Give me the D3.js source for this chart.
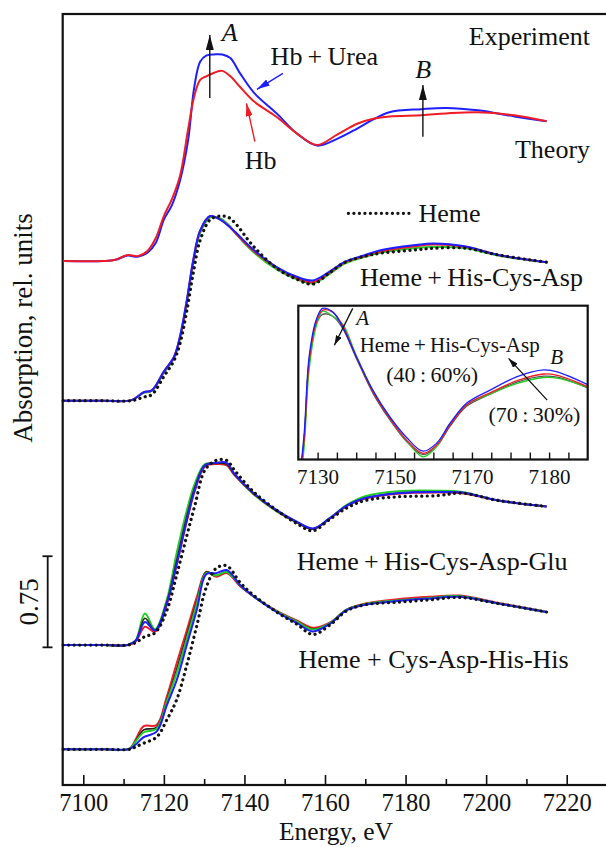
<!DOCTYPE html>
<html>
<head>
<meta charset="utf-8">
<script src="https://cdn.jsdelivr.net/npm/d3@7/dist/d3.min.js"></script>
<style>
  body { margin: 0; background: #fff; }
  text { font-family: "Liberation Serif", "Times New Roman", serif; fill: #111; }
</style>
</head>
<body>
<svg id="chart" width="606" height="847"></svg>
<script>
// ---- data: energy (eV) and absorption (rel. units, pre-edge = 0) ----
// panel 1: Hb / Hb + Urea
const energyHb = [7095, 7105, 7108, 7111, 7113.5, 7116, 7118, 7120, 7122, 7124, 7126, 7127.5, 7129, 7130.5, 7132.5, 7134.5, 7136.5, 7139, 7142.5, 7148, 7153, 7158, 7163, 7168, 7172, 7176, 7184, 7190, 7198, 7207, 7215];
const hbRed      = [0, 0, 0.01, 0.05, 0.04, 0.085, 0.19, 0.37, 0.51, 0.70, 1.08, 1.35, 1.49, 1.52, 1.55, 1.565, 1.52, 1.43, 1.31, 1.185, 1.05, 0.955, 1.04, 1.13, 1.17, 1.19, 1.20, 1.215, 1.225, 1.20, 1.15];
const hbUreaBlue = [0, 0, 0.01, 0.045, 0.035, 0.07, 0.15, 0.34, 0.46, 0.66, 0.99, 1.42, 1.64, 1.69, 1.70, 1.70, 1.67, 1.54, 1.38, 1.215, 1.05, 0.95, 1.005, 1.09, 1.165, 1.225, 1.25, 1.26, 1.24, 1.19, 1.15];

// panel 2: Heme + His-Cys-Asp
const energyP2 = [7095, 7105, 7112, 7115, 7117, 7120, 7122.5, 7124, 7125.7, 7127.3, 7129, 7131.5, 7134, 7136, 7138, 7142, 7148, 7153, 7157, 7161, 7165, 7170, 7174, 7182, 7187, 7195, 7203, 7215];
const p2Green = [0, 0, 0.005, 0.065, 0.08, 0.23, 0.35, 0.51, 0.80, 1.13, 1.38, 1.51, 1.50, 1.45, 1.37, 1.23, 1.08, 1.00, 0.965, 1.04, 1.13, 1.185, 1.22, 1.255, 1.265, 1.255, 1.195, 1.14];
const p2Red   = [0, 0, 0.005, 0.07, 0.085, 0.24, 0.36, 0.52, 0.82, 1.15, 1.40, 1.52, 1.49, 1.44, 1.37, 1.24, 1.095, 1.01, 0.975, 1.05, 1.14, 1.19, 1.23, 1.27, 1.285, 1.265, 1.20, 1.14];
const p2Blue  = [0, 0, 0.005, 0.07, 0.085, 0.24, 0.36, 0.53, 0.83, 1.16, 1.40, 1.52, 1.49, 1.44, 1.38, 1.25, 1.10, 1.02, 0.99, 1.06, 1.145, 1.20, 1.24, 1.28, 1.295, 1.27, 1.20, 1.14];
const p2Heme  = [0, 0, 0, 0.03, 0.05, 0.20, 0.33, 0.47, 0.74, 1.05, 1.32, 1.49, 1.52, 1.51, 1.45, 1.28, 1.09, 1.00, 0.96, 1.05, 1.14, 1.19, 1.215, 1.24, 1.255, 1.255, 1.20, 1.14];

// panel 3: Heme + His-Cys-Asp-Glu
const energyP3 = [7095, 7105, 7111, 7113, 7115.3, 7117.8, 7120.7, 7123.2, 7125.7, 7127.7, 7130.2, 7133, 7135.6, 7137.5, 7142.3, 7148, 7153, 7157, 7161, 7165.5, 7170, 7178, 7188, 7194, 7203, 7215];
const p3Green = [0, 0, 0, 0.04, 0.26, 0.13, 0.37, 0.76, 1.11, 1.33, 1.49, 1.49, 1.48, 1.40, 1.24, 1.10, 1.01, 0.955, 1.04, 1.155, 1.225, 1.265, 1.27, 1.26, 1.19, 1.14];
const p3Red   = [0, 0, 0, 0.03, 0.15, 0.11, 0.33, 0.66, 1.02, 1.27, 1.47, 1.49, 1.48, 1.40, 1.245, 1.105, 1.01, 0.955, 1.035, 1.145, 1.205, 1.245, 1.255, 1.25, 1.19, 1.14];
const p3Black = [0, 0, 0, 0.035, 0.22, 0.12, 0.35, 0.70, 1.06, 1.30, 1.48, 1.495, 1.49, 1.405, 1.245, 1.105, 1.01, 0.955, 1.035, 1.15, 1.21, 1.25, 1.26, 1.255, 1.19, 1.14];
const p3Blue  = [0, 0, 0, 0.035, 0.19, 0.12, 0.34, 0.67, 1.03, 1.28, 1.48, 1.50, 1.50, 1.41, 1.25, 1.11, 1.015, 0.96, 1.04, 1.15, 1.21, 1.25, 1.26, 1.255, 1.19, 1.14];
const p3Heme  = [0, 0, 0, 0.02, 0.07, 0.10, 0.28, 0.58, 0.90, 1.15, 1.44, 1.52, 1.52, 1.44, 1.26, 1.11, 1.00, 0.94, 1.03, 1.13, 1.19, 1.22, 1.23, 1.25, 1.19, 1.14];

// panel 4: Heme + Cys-Asp-His-His
const energyP4 = [7095, 7105, 7111.5, 7113, 7115, 7118.2, 7120.7, 7123.2, 7125.7, 7128.2, 7130.5, 7133, 7135.6, 7139, 7142.2, 7148, 7153, 7157, 7161.3, 7165.4, 7170, 7178, 7186, 7193.5, 7203, 7215];
const p4Red   = [0, 0, 0.005, 0.08, 0.19, 0.20, 0.43, 0.71, 0.98, 1.255, 1.46, 1.42, 1.45, 1.34, 1.26, 1.14, 1.06, 1.00, 1.045, 1.15, 1.20, 1.235, 1.255, 1.265, 1.205, 1.13];
const p4Black = [0, 0, 0.005, 0.07, 0.16, 0.18, 0.40, 0.66, 0.94, 1.22, 1.46, 1.43, 1.46, 1.345, 1.26, 1.135, 1.05, 0.99, 1.04, 1.15, 1.195, 1.225, 1.245, 1.26, 1.20, 1.13];
const p4Green = [0, 0, 0.005, 0.065, 0.14, 0.17, 0.39, 0.63, 0.91, 1.20, 1.45, 1.43, 1.46, 1.35, 1.26, 1.135, 1.05, 0.985, 1.04, 1.15, 1.195, 1.225, 1.245, 1.26, 1.20, 1.13];
const p4Blue  = [0, 0, 0.003, 0.04, 0.10, 0.145, 0.36, 0.57, 0.86, 1.15, 1.44, 1.45, 1.475, 1.35, 1.26, 1.13, 1.04, 0.97, 1.035, 1.145, 1.19, 1.22, 1.24, 1.255, 1.20, 1.13];
const p4Heme  = [0, 0, 0, 0.02, 0.05, 0.10, 0.24, 0.41, 0.695, 1.02, 1.33, 1.49, 1.51, 1.37, 1.27, 1.13, 1.03, 0.945, 1.025, 1.14, 1.19, 1.21, 1.23, 1.25, 1.20, 1.13];

// vertical offsets of the stacked spectra (rel. units)
const offsets = [4.313, 3.163, 1.152, 0.294];

// inset: Heme + His-Cys-Asp, 40:60% ... 70:30%
const energyInset = [7125, 7126.5, 7127.8, 7129.6, 7131.3, 7133.9, 7136.5, 7140, 7144.3, 7148.7, 7153, 7157.3, 7160.8, 7164.3, 7168.6, 7174.7, 7181.7, 7188.6, 7192.1, 7200.2];
const insetGray  = [0.84, 1.03, 1.32, 1.46, 1.497, 1.49, 1.445, 1.335, 1.205, 1.105, 1.025, 0.975, 1.005, 1.08, 1.155, 1.20, 1.245, 1.267, 1.263, 1.222];
const insetGreen = [0.82, 1.00, 1.29, 1.45, 1.508, 1.49, 1.46, 1.345, 1.215, 1.11, 1.028, 0.967, 1.005, 1.09, 1.16, 1.20, 1.24, 1.262, 1.26, 1.225];
const insetRed   = [0.84, 1.03, 1.32, 1.465, 1.512, 1.505, 1.455, 1.34, 1.21, 1.11, 1.03, 0.98, 1.01, 1.085, 1.16, 1.205, 1.25, 1.275, 1.27, 1.227];
const insetBlue  = [0.85, 1.05, 1.339, 1.475, 1.519, 1.506, 1.45, 1.34, 1.215, 1.116, 1.04, 0.988, 1.017, 1.091, 1.166, 1.215, 1.265, 1.29, 1.283, 1.234];

// ticks
const majorTicks = [7100, 7120, 7140, 7160, 7180, 7200, 7220];
const minorTicks = [7110, 7130, 7150, 7170, 7190, 7210];
const insetTicks = [7130, 7135, 7140, 7145, 7150, 7155, 7160, 7165, 7170, 7175, 7180, 7185, 7190, 7195];
const insetLabelTicks = [7130, 7150, 7170, 7190];
const insetLabels = ["7130", "7150", "7170", "7180"];
const scaleBar = [1.133, 0.75];   // start, length (rel. units)

// ---- layout ----
const frame = { left: 62.7, top: 14, right: 612, bottom: 785 };
const inset = { left: 298.3, top: 305.7, right: 587.7, bottom: 459.5 };
const C = { red: "#ee1c24", blue: "#1e1eff", green: "#22cc22", black: "#222", gray: "#555" };
const FS = 26;      // annotation font size
const FSI = 21;     // inset font size

const svg = d3.select("#chart");
const x = d3.scaleLinear().domain([7100, 7220]).range([83.3, 566.7]);
const y = d3.scaleLinear().domain([0, 6.346]).range([frame.bottom, frame.top]);
const ix = d3.scaleLinear().domain([7125, 7200]).range([inset.left, inset.right]);
const iy = d3.scaleLinear().domain([0.957, 1.529]).range([inset.bottom, inset.top]);

const defs = svg.append("defs");
function marker(id, color, len, wid) {
  defs.append("marker").attr("id", id)
    .attr("viewBox", `0 0 ${len} ${wid}`).attr("refX", len).attr("refY", wid / 2)
    .attr("markerWidth", len).attr("markerHeight", wid)
    .attr("markerUnits", "userSpaceOnUse").attr("orient", "auto")
    .append("path").attr("d", `M0,0L${len},${wid / 2}L0,${wid}Z`).attr("fill", color);
}
marker("ar-black", "#111", 15, 8);
marker("ar-blue", C.blue, 13, 7);
marker("ar-red", C.red, 13, 7);
marker("ar-small", "#111", 10, 6);

defs.append("clipPath").attr("id", "inset-clip").append("rect")
  .attr("x", inset.left).attr("y", inset.top)
  .attr("width", inset.right - inset.left).attr("height", inset.bottom - inset.top);

function drawCurve(g, energy, values, off, color, width, dotted, sx, sy) {
  const line = d3.line()
    .x((d, i) => sx(energy[i]))
    .y(d => sy(d + off))
    .curve(d3.curveCatmullRom.alpha(0.5));
  const p = g.append("path").attr("d", line(values))
    .attr("fill", "none").attr("stroke", color).attr("stroke-width", width)
    .attr("stroke-linejoin", "round");
  if (dotted) p.attr("stroke-dasharray", "0.1,5.4").attr("stroke-linecap", "round");
}

// ---- frame and axis ----
svg.append("rect")
  .attr("x", frame.left).attr("y", frame.top)
  .attr("width", frame.right - frame.left).attr("height", frame.bottom - frame.top)
  .attr("fill", "none").attr("stroke", "#111").attr("stroke-width", 2.2);

const gx = svg.append("g").attr("transform", `translate(0,${frame.bottom})`)
  .call(d3.axisBottom(x).tickValues(majorTicks).tickSize(-10).tickPadding(9).tickFormat(d3.format("d")));
gx.append("g").call(d3.axisBottom(x).tickValues(minorTicks).tickSize(-6).tickFormat(""));
gx.attr("font-size", null).attr("font-family", null);
gx.selectAll(".domain").remove();
gx.selectAll("line").attr("stroke", "#111").attr("stroke-width", 1.6);
gx.selectAll("text").attr("font-size", 24.5).attr("fill", "#111");

svg.append("text").attr("x", 336).attr("y", 839.5).attr("text-anchor", "middle")
  .attr("font-size", 25.5).text("Energy, eV");
svg.append("text").attr("transform", "translate(31.5,328) rotate(-90)")
  .attr("text-anchor", "middle").attr("font-size", 27).text("Absorption, rel. units");

// scale bar
const sb = svg.append("g").attr("stroke", "#111").attr("stroke-width", 1.8);
sb.append("line").attr("x1", 47.7).attr("x2", 47.7).attr("y1", y(scaleBar[0])).attr("y2", y(scaleBar[0] + scaleBar[1]));
[scaleBar[0], scaleBar[0] + scaleBar[1]].forEach(v =>
  sb.append("line").attr("x1", 42.5).attr("x2", 52.5).attr("y1", y(v)).attr("y2", y(v)));
svg.append("text")
  .attr("transform", `translate(37.5,${y(scaleBar[0] + scaleBar[1] / 2)}) rotate(-90)`)
  .attr("text-anchor", "middle").attr("font-size", 27).text(scaleBar[1].toFixed(2));

// ---- spectra ----
const plot = svg.append("g");
drawCurve(plot, energyHb, hbUreaBlue, offsets[0], C.blue, 2, false, x, y);
drawCurve(plot, energyHb, hbRed, offsets[0], C.red, 2, false, x, y);

drawCurve(plot, energyP2, p2Green, offsets[1], C.green, 2, false, x, y);
drawCurve(plot, energyP2, p2Red, offsets[1], C.red, 2, false, x, y);
drawCurve(plot, energyP2, p2Blue, offsets[1], C.blue, 2, false, x, y);
drawCurve(plot, energyP2, p2Heme, offsets[1], "#111", 3.2, true, x, y);

drawCurve(plot, energyP3, p3Green, offsets[2], C.green, 2, false, x, y);
drawCurve(plot, energyP3, p3Red, offsets[2], C.red, 2, false, x, y);
drawCurve(plot, energyP3, p3Black, offsets[2], C.black, 1.6, false, x, y);
drawCurve(plot, energyP3, p3Blue, offsets[2], C.blue, 2, false, x, y);
drawCurve(plot, energyP3, p3Heme, offsets[2], "#111", 3.2, true, x, y);

drawCurve(plot, energyP4, p4Red, offsets[3], C.red, 2, false, x, y);
drawCurve(plot, energyP4, p4Black, offsets[3], C.black, 1.6, false, x, y);
drawCurve(plot, energyP4, p4Green, offsets[3], C.green, 2, false, x, y);
drawCurve(plot, energyP4, p4Blue, offsets[3], C.blue, 2, false, x, y);
drawCurve(plot, energyP4, p4Heme, offsets[3], "#111", 3.2, true, x, y);

// ---- annotations (data coordinates) ----
function arrow(g, sx, sy, e1, u1, e2, u2, color, id, w) {
  g.append("line").attr("x1", sx(e1)).attr("y1", sy(u1)).attr("x2", sx(e2)).attr("y2", sy(u2))
    .attr("stroke", color).attr("stroke-width", w).attr("marker-end", `url(#${id})`);
}
function label(g, sx, sy, e, u, txt, size, opts = {}) {
  return g.append("text").attr("x", sx(e)).attr("y", sy(u)).attr("font-size", size)
    .attr("text-anchor", opts.anchor || "start")
    .attr("font-style", opts.italic ? "italic" : null).text(txt);
}
const ann = svg.append("g");
arrow(ann, x, y, 7131.4, 5.654, 7131.4, 6.173, "#111", "ar-black", 1.4);
label(ann, x, y, 7134.4, 6.123, "A", FS, { italic: true });
arrow(ann, x, y, 7184.3, 5.336, 7184.3, 5.761, "#111", "ar-black", 1.4);
label(ann, x, y, 7182.4, 5.819, "B", FS, { italic: true });
label(ann, x, y, 7146.5, 5.926, "Hb\u2009+\u2009Urea", FS);
arrow(ann, x, y, 7149.55, 5.858, 7143.1, 5.726, C.blue, "ar-blue", 1.4);
label(ann, x, y, 7140.1, 5.07, "Hb", FS);
arrow(ann, x, y, 7142.6, 5.295, 7140.5, 5.611, C.red, "ar-red", 1.4);
label(ann, x, y, 7225.8, 6.091, "Experiment", FS, { anchor: "end" });
label(ann, x, y, 7225.8, 5.16, "Theory", FS, { anchor: "end" });

// Heme legend
ann.append("line").attr("x1", x(7165.8)).attr("x2", x(7181.9)).attr("y1", y(4.705)).attr("y2", y(4.705))
  .attr("stroke", "#111").attr("stroke-width", 3.2).attr("stroke-dasharray", "0.1,5.4").attr("stroke-linecap", "round");
label(ann, x, y, 7183.2, 4.636, "Heme", FS);
label(ann, x, y, 7168.7, 4.107, "Heme\u2009+\u2009His-Cys-Asp", FS);
label(ann, x, y, 7153.0, 1.7695, "Heme\u2009+\u2009His-Cys-Asp-Glu", FS);
label(ann, x, y, 7153.4, 0.9605, "Heme + Cys-Asp-His-His", FS);

// ---- inset ----
const gi = svg.append("g");
gi.append("rect").attr("x", inset.left).attr("y", inset.top)
  .attr("width", inset.right - inset.left).attr("height", inset.bottom - inset.top)
  .attr("fill", "#fff");
const gic = gi.append("g").attr("clip-path", "url(#inset-clip)");
drawCurve(gic, energyInset, insetGray, 0, C.gray, 1.3, false, ix, iy);
drawCurve(gic, energyInset, insetGreen, 0, C.green, 1.3, false, ix, iy);
drawCurve(gic, energyInset, insetRed, 0, C.red, 1.3, false, ix, iy);
drawCurve(gic, energyInset, insetBlue, 0, C.blue, 1.3, false, ix, iy);

const gix = gi.append("g").attr("transform", `translate(0,${inset.bottom})`)
  .call(d3.axisBottom(ix).tickValues(insetTicks).tickSize(-7).tickPadding(10)
    .tickFormat(d => { const k = insetLabelTicks.indexOf(d); return k < 0 ? "" : insetLabels[k]; }));
gix.attr("font-size", null).attr("font-family", null);
gix.selectAll(".domain").remove();
gix.selectAll("line").attr("stroke", "#111").attr("stroke-width", 1.4);
gix.selectAll("text").attr("font-size", FSI).attr("fill", "#111");
gi.append("rect").attr("x", inset.left).attr("y", inset.top)
  .attr("width", inset.right - inset.left).attr("height", inset.bottom - inset.top)
  .attr("fill", "none").attr("stroke", "#111").attr("stroke-width", 2.2);

arrow(gi, ix, iy, 7139.1, 1.519, 7134.35, 1.382, "#111", "ar-small", 1.3);
label(gi, ix, iy, 7140, 1.457, "A", FSI, { italic: true });
label(gi, ix, iy, 7140.9, 1.356, "Heme\u2009+\u2009His-Cys-Asp", FSI);
label(gi, ix, iy, 7147.8, 1.246, "(40\u2009:\u200960%)", FSI + 1);
arrow(gi, ix, iy, 7189.5, 1.178, 7179.5, 1.333, "#111", "ar-small", 1.3);
label(gi, ix, iy, 7190.3, 1.314, "B", FSI, { italic: true });
label(gi, ix, iy, 7174.3, 1.098, "(70\u2009:\u200930%)", FSI + 1);
</script>
</body>
</html>
